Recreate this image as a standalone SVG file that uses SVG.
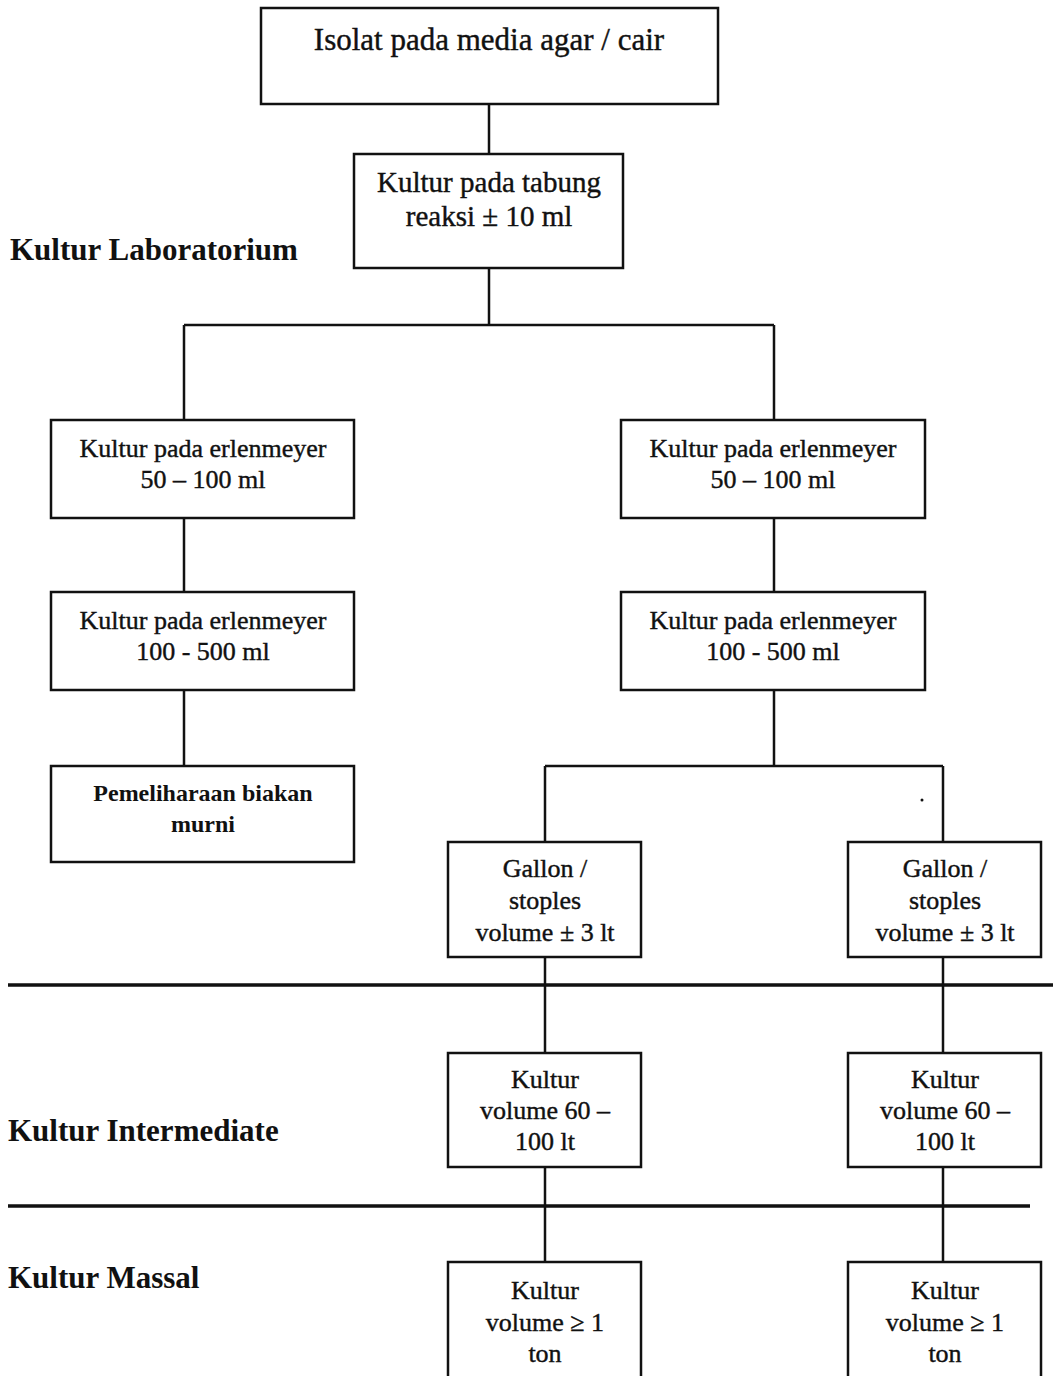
<svg xmlns="http://www.w3.org/2000/svg" width="1053" height="1376" viewBox="0 0 1053 1376">
<style>
.box{fill:#fff;stroke:#111;stroke-width:2.5}
.t{font-family:"Liberation Serif","Times New Roman",serif;font-size:26px;fill:#111;stroke:#111;stroke-width:0.4;text-anchor:middle}
.tb{font-family:"Liberation Serif","Times New Roman",serif;font-size:24px;font-weight:bold;fill:#111;text-anchor:middle}
.lab{font-family:"Liberation Serif","Times New Roman",serif;font-size:31px;font-weight:bold;fill:#111}
.c{stroke:#111;stroke-width:2.5;fill:none}
.div{stroke:#111;stroke-width:3.5;fill:none}
</style>
<rect width="1053" height="1376" fill="#fff"/>
<g id="connectors">
<path class="c" d="M489 104V154M489 268V325M184 325H774M184 325V420M774 325V420M184 518V592M184 690V766M774 518V592M774 690V766M545 766H943M545 766V842M943 766V842M545 957V1053M943 957V1053M545 1167V1262M943 1167V1262"/>
</g>
<g id="dividers">
<path class="div" d="M8 985H1053M8 1206H1030"/>
<circle cx="922" cy="800" r="1.5" fill="#111"/>
</g>
<g id="labels">
<text class="lab" x="10" y="260">Kultur Laboratorium</text>
<text class="lab" x="8" y="1141">Kultur Intermediate</text>
<text class="lab" x="8" y="1288">Kultur Massal</text>
</g>
<g id="n1"><rect class="box" x="261" y="8" width="457" height="96"/><text class="t" x="489" y="50" style="font-size:31px">Isolat pada media agar / cair</text></g>
<g id="n2"><rect class="box" x="354" y="154" width="269" height="114"/><text class="t" x="489" y="192" style="font-size:29px">Kultur pada tabung</text><text class="t" x="489" y="226" style="font-size:29px">reaksi ± 10 ml</text></g>
<g id="n3"><rect class="box" x="51" y="420" width="303" height="98"/><text class="t" x="203" y="457">Kultur pada erlenmeyer</text><text class="t" x="203" y="488">50 – 100 ml</text></g>
<g id="n4"><rect class="box" x="621" y="420" width="304" height="98"/><text class="t" x="773" y="457">Kultur pada erlenmeyer</text><text class="t" x="773" y="488">50 – 100 ml</text></g>
<g id="n5"><rect class="box" x="51" y="592" width="303" height="98"/><text class="t" x="203" y="629">Kultur pada erlenmeyer</text><text class="t" x="203" y="660">100 - 500 ml</text></g>
<g id="n6"><rect class="box" x="621" y="592" width="304" height="98"/><text class="t" x="773" y="629">Kultur pada erlenmeyer</text><text class="t" x="773" y="660">100 - 500 ml</text></g>
<g id="n7"><rect class="box" x="51" y="766" width="303" height="96"/><text class="tb" x="203" y="801">Pemeliharaan biakan</text><text class="tb" x="203" y="832">murni</text></g>
<g id="n8"><rect class="box" x="448" y="842" width="193" height="115"/><text class="t" x="545" y="877">Gallon /</text><text class="t" x="545" y="909">stoples</text><text class="t" x="545" y="941">volume ± 3 lt</text></g>
<g id="n9"><rect class="box" x="848" y="842" width="193" height="115"/><text class="t" x="945" y="877">Gallon /</text><text class="t" x="945" y="909">stoples</text><text class="t" x="945" y="941">volume ± 3 lt</text></g>
<g id="n10"><rect class="box" x="448" y="1053" width="193" height="114"/><text class="t" x="545" y="1088">Kultur</text><text class="t" x="545" y="1119">volume 60 –</text><text class="t" x="545" y="1150">100 lt</text></g>
<g id="n11"><rect class="box" x="848" y="1053" width="193" height="114"/><text class="t" x="945" y="1088">Kultur</text><text class="t" x="945" y="1119">volume 60 –</text><text class="t" x="945" y="1150">100 lt</text></g>
<g id="n12"><rect class="box" x="448" y="1262" width="193" height="130"/><text class="t" x="545" y="1299">Kultur</text><text class="t" x="545" y="1331">volume ≥ 1</text><text class="t" x="545" y="1362">ton</text></g>
<g id="n13"><rect class="box" x="848" y="1262" width="193" height="130"/><text class="t" x="945" y="1299">Kultur</text><text class="t" x="945" y="1331">volume ≥ 1</text><text class="t" x="945" y="1362">ton</text></g>
</svg>
